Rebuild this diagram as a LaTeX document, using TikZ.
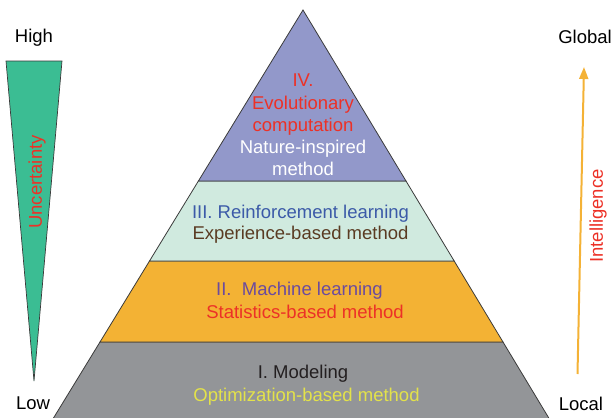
\documentclass[tikz,border=0pt]{standalone}
\usepackage{fontspec}
\setmainfont{Liberation Sans}
\usetikzlibrary{arrows.meta}
\definecolor{lvfour}{HTML}{9298CA}
\definecolor{lvthree}{HTML}{D0EADF}
\definecolor{lvtwo}{HTML}{F3B234}
\definecolor{lvone}{HTML}{939598}
\definecolor{edgegray}{HTML}{3A3A3A}
\definecolor{wedge}{HTML}{3BBD93}
\definecolor{txtred}{HTML}{EC3127}
\definecolor{txtblue}{HTML}{3B5AA8}
\definecolor{txtbrown}{HTML}{5A3B22}
\definecolor{txtpurple}{HTML}{6B4B9E}
\definecolor{txtyellow}{HTML}{E3E24A}
\definecolor{txtdark}{HTML}{231F20}
\definecolor{arroworange}{HTML}{F4B236}
\begin{document}
\begin{tikzpicture}[x=1pt,y=-1pt,
  txt/.style={font=\fontsize{18.5}{22}\selectfont, inner sep=0pt, anchor=base},
  layer/.style={draw=edgegray, line width=0.8pt, line join=miter}]
\useasboundingbox (0,0) rectangle (611,418);
% pyramid corner coordinates
\coordinate (apex) at (303,10);
\coordinate (l4) at (198.4,181);
\coordinate (r4) at (406,181);
\coordinate (l3) at (149.5,261);
\coordinate (r3) at (454.2,261);
\coordinate (l2) at (100,342);
\coordinate (r2) at (503,342);
\coordinate (l1) at (53.5,418);
\coordinate (r1) at (548.8,418);
% layers
\fill[lvone] (l2) -- (r2) -- (r1) -- (l1) -- cycle;
\draw[layer] (l1) -- (l2) -- (r2) -- (r1);
\filldraw[layer, fill=lvtwo] (l3) -- (r3) -- (r2) -- (l2) -- cycle;
\filldraw[layer, fill=lvthree] (l4) -- (r4) -- (r3) -- (l3) -- cycle;
\filldraw[layer, fill=lvfour] (apex) -- (r4) -- (l4) -- cycle;
% level IV text
\node[txt, text=txtred] (t4a) at (303,86.6) {IV.};
\node[txt, text=txtred] (t4b) at (303,109.6) {Evolutionary};
\node[txt, text=txtred] (t4c) at (303,131.6) {computation};
\node[txt, text=white] (t4d) at (303,153.6) {Nature-inspired};
\node[txt, text=white] (t4e) at (303,175.6) {method};
% level III
\node[txt, text=txtblue] (t3a) at (300.5,218.6) {III. Reinforcement learning};
\node[txt, text=txtbrown] (t3b) at (300.5,239.6) {Experience-based method};
% level II
\node[txt, text=txtpurple] (t2a) at (299.5,295.6) {II.\ \ Machine learning};
\node[txt, text=txtred] (t2b) at (305,318.6) {Statistics-based method};
% level I
\node[txt, text=txtdark] (t1a) at (303,378.6) {I. Modeling};
\node[txt, text=txtyellow] (t1b) at (306.5,401.6) {Optimization-based method};
% uncertainty wedge
\coordinate (w1) at (6,61);
\coordinate (w2) at (62,61);
\coordinate (w3) at (34,381);
\filldraw[fill=wedge, draw=edgegray, line width=0.7pt] (w1) -- (w2) -- (w3) -- cycle;
\node[font=\fontsize{18.5}{22}\selectfont, inner sep=0pt, rotate=90, text=txtred] (unc) at (37,182) {Uncertainty};
\node[txt, text=black] (high) at (34,42.6) {High};
\node[txt, text=black] (low) at (33,409.6) {Low};
% intelligence arrow
\coordinate (abot) at (577.5,374);
\coordinate (atop) at (584,67);
\draw[arroworange, line width=2pt, -{Triangle[length=12pt,width=9pt]}] (abot) -- (atop);
\node[font=\fontsize{18.5}{22}\selectfont, inner sep=0pt, rotate=90, text=txtred] (intel) at (598,216) {Intelligence};
\node[txt, text=black] (glob) at (585,43.6) {Global};
\node[txt, text=black] (loc) at (581,410) {Local};
\end{tikzpicture}
\end{document}
